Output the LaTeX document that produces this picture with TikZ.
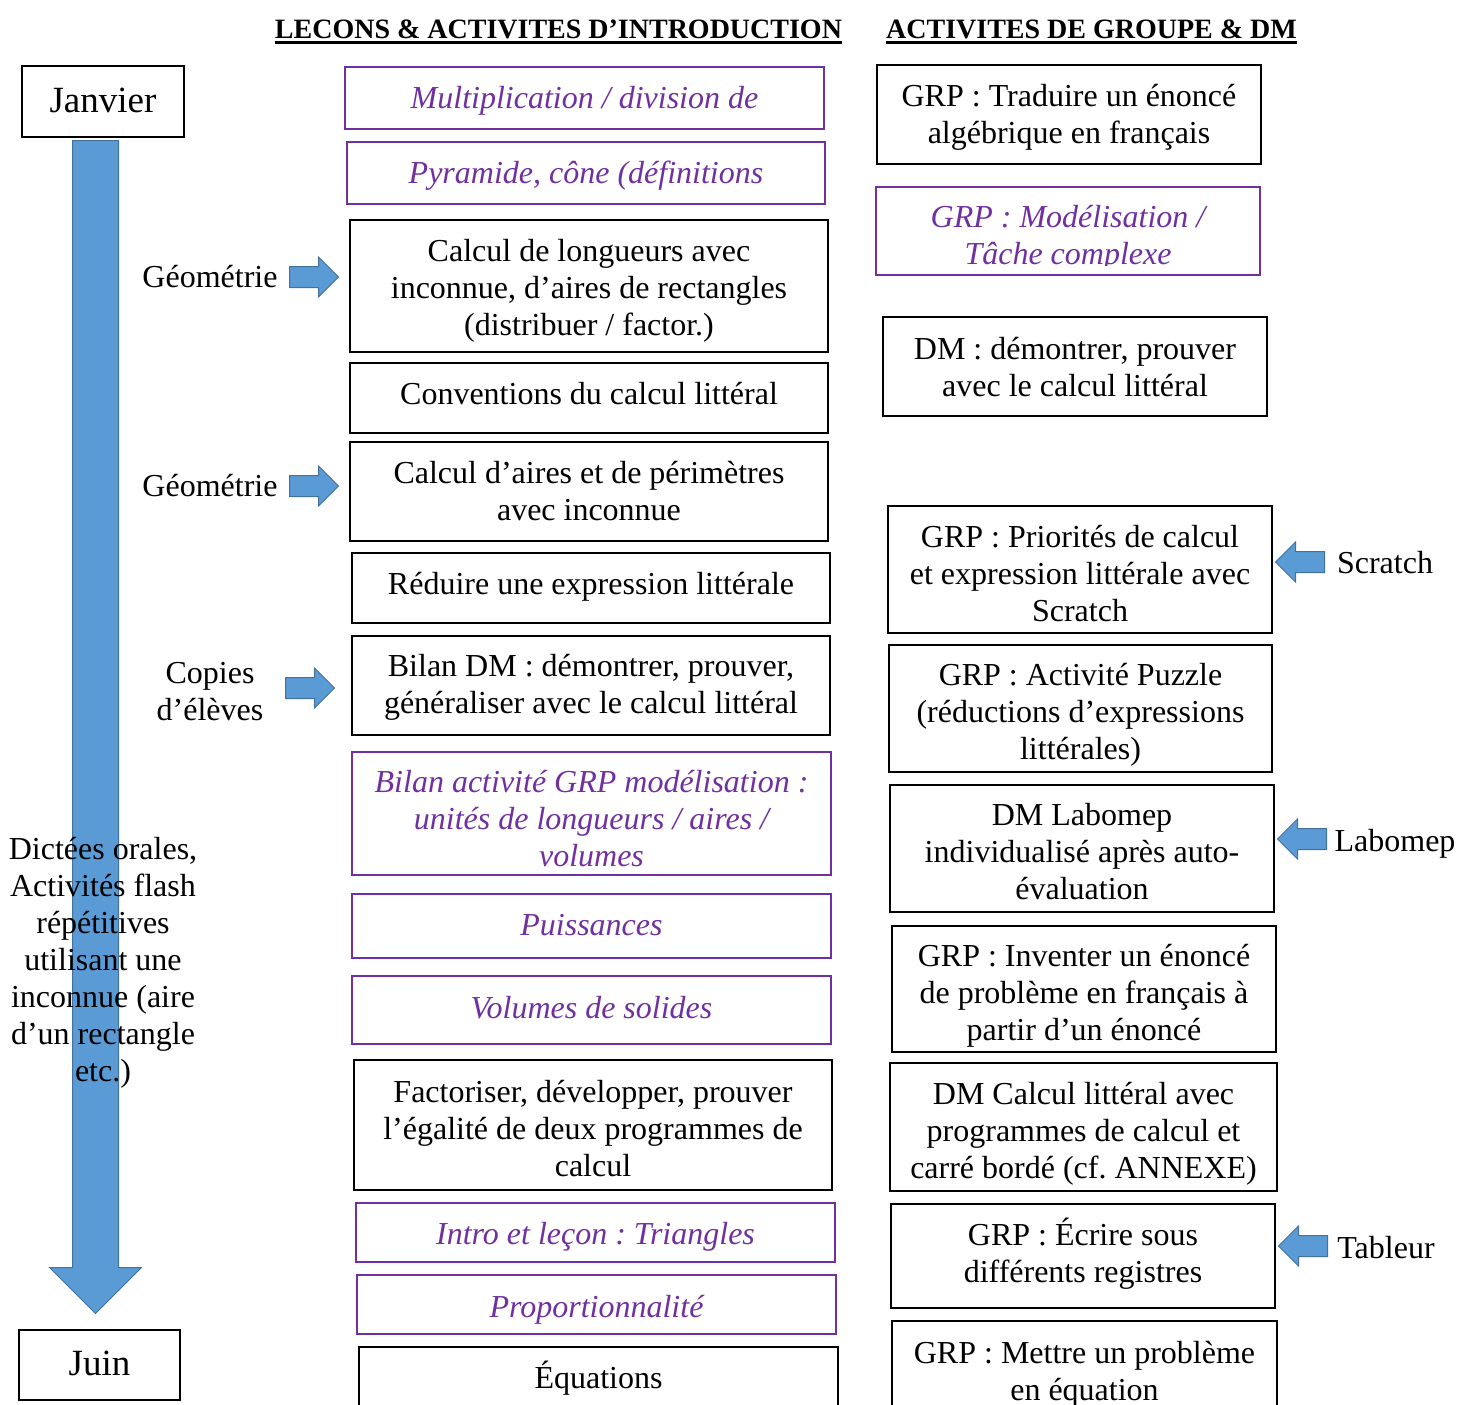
\documentclass[tikz,border=0pt]{standalone}
\usepackage{fontspec}
\setmainfont{Liberation Serif}
\usetikzlibrary{shapes.arrows}
\frenchspacing

\definecolor{purp}{HTML}{7030A0}
\definecolor{arrfill}{HTML}{5B9BD5}
\definecolor{arrline}{HTML}{41719C}

\tikzset{
	th/.initial=29, td/.initial=9,
	tv/.style 2 args={th=#1, td=#2},
	sz/.style 2 args={minimum width=#1pt, minimum height=#2pt},
	lab/.style={align=center, inner sep=0pt, font=\fontsize{32}{37}\selectfont,
		execute at begin node={\rule{0pt}{\pgfkeysvalueof{/tikz/th}pt}},
		execute at end node={\rule[-\pgfkeysvalueof{/tikz/td}pt]{0pt}{0pt}}},
	lecon/.style={lab, draw, line width=1.3pt},
	intro/.style={lecon, draw=purp, text=purp, font=\fontsize{32}{37}\selectfont\itshape},
	mois/.style={lecon, font=\fontsize{37}{40}\selectfont},
	titre/.style={inner sep=0pt, anchor=base, font=\fontsize{28}{30}\selectfont\bfseries},
	barrow/.style={single arrow, fill=arrfill, draw=arrline, line width=1pt, inner xsep=0pt, inner ysep=10pt,
		single arrow head extend=9.5pt, minimum height=49pt, anchor=tail}
}

\begin{document}
\begin{tikzpicture}[x=1pt,y=-1pt]
	\useasboundingbox (0,0) rectangle (1459,1405);

	% titres
	\node[titre] (h1) at (558.5,38.5) {LECONS \& ACTIVITES D’INTRODUCTION};
	\node[titre] (h2) at (1091.5,38.5) {ACTIVITES DE GROUPE \& DM};
	\draw[line width=2.5pt] ([yshift=-4pt]h1.base west) -- ([yshift=-4pt]h1.base east);
	\draw[line width=2.5pt] ([yshift=-4pt]h2.base west) -- ([yshift=-4pt]h2.base east);

	% frise
	\node[mois, sz={162}{71}, tv={30}{9}] (jan) at (103,101.5) {Janvier};
	\node[mois, sz={161}{70}, tv={29}{9}] (juin) at (99.5,1365) {Juin};
	\node[single arrow, fill=arrfill, draw=arrline, line width=1pt, inner xsep=0pt, inner ysep=22.5pt, rotate=-90,
		single arrow head extend=23pt, minimum height=1173pt, anchor=tail] (temps) at (95.5,140) {};
	\node[lab, tv={253}{9}] (dict) at (103,959) {Dictées orales,\\Activités flash\\répétitives\\utilisant une\\inconnue (aire\\d’un rectangle\\etc.)};

	% lecons
	\node[intro, sz={479}{62}, tv={29}{9}] (m1) at (584.5,98) {Multiplication / division de};
	\node[intro, sz={478}{62}, tv={29}{9}] (m2) at (586,173) {Pyramide, cône (définitions};
	\node[lecon, sz={478}{132}, tv={107}{9}] (m3) at (589,286) {Calcul de longueurs avec\\inconnue, d’aires de rectangles\\(distribuer / factor.)};
	\node[lecon, sz={478}{70}, tv={25}{13}] (m4) at (589,398) {Conventions du calcul littéral};
	\node[lecon, sz={478}{99}, tv={66}{9}] (m5) at (589,491.5) {Calcul d’aires et de périmètres\\avec inconnue};
	\node[lecon, sz={478}{70}, tv={25}{13}] (m6) at (591,588) {Réduire une expression littérale};
	\node[lecon, sz={478}{99}, tv={64}{9}] (m7) at (591,685.5) {Bilan DM : démontrer, prouver,\\généraliser avec le calcul littéral};
	\node[intro, sz={479}{123}, tv={114}{9}] (m8) at (591.5,813.5) {Bilan activité GRP modélisation :\\unités de longueurs / aires /\\volumes};
	\node[intro, sz={479}{64}, tv={27}{9}] (m9) at (591.5,926) {Puissances};
	\node[intro, sz={479}{68}, tv={25}{9}] (m10) at (591.5,1010) {Volumes de solides};
	\node[lecon, sz={478}{130}, tv={111}{9}] (m11) at (593,1125) {Factoriser, développer, prouver\\l’égalité de deux programmes de\\calcul};
	\node[intro, sz={479}{59}, tv={32}{9}] (m12) at (595.5,1232.5) {Intro et leçon : Triangles};
	\node[intro, sz={479}{59}, tv={34}{9}] (m13) at (596.5,1304.5) {Proportionnalité};
	\node[lecon, sz={479}{62}, tv={29}{9}] (m14) at (598.5,1378) {Équations};

	% activites de groupe et DM
	\node[lecon, sz={384}{99}, tv={66}{9}] (r1) at (1069,114.5) {GRP : Traduire un énoncé\\algébrique en français};
	\node[intro, sz={384}{88}] (r2) at (1068,231) {};
	\begin{scope}
		\clip (r2.north west) rectangle ([yshift=10pt]r2.south east);
		\node[lab, text=purp, font=\fontsize{32}{37}\selectfont\itshape, tv={75}{9}] (r2t) at (r2.center) {GRP : Modélisation /\\Tâche complexe};
	\end{scope}
	\node[lecon, sz={384}{99}, tv={68}{9}] (r3) at (1075,366.5) {DM : démontrer, prouver\\avec le calcul littéral};
	\node[lecon, sz={384}{127}, tv={112}{9}] (r4) at (1080,569.5) {GRP : Priorités de calcul\\et expression littérale avec\\Scratch};
	\node[lecon, sz={383}{127}, tv={110}{9}] (r5) at (1080.5,708.5) {GRP : Activité Puzzle\\(réductions d’expressions\\littérales)};
	\node[lecon, sz={384}{127}, tv={110}{9}] (r6) at (1082,848.5) {DM Labomep\\individualisé après auto-\\évaluation};
	\node[lecon, sz={384}{126}, tv={111}{9}] (r7) at (1084,989) {GRP : Inventer un énoncé\\de problème en français à\\partir d’un énoncé};
	\node[lecon, sz={387}{128}, tv={111}{9}] (r8) at (1083.5,1127) {DM Calcul littéral avec\\programmes de calcul et\\carré bordé (cf. ANNEXE)};
	\node[lecon, sz={384}{104}, tv={65}{13}] (r9) at (1083,1256) {GRP : Écrire sous\\différents registres};
	\node[lecon, sz={385}{100}, tv={67}{9}] (r10) at (1084.5,1371) {GRP : Mettre un problème\\en équation};

	% outils et sources
	\node[lab] (geo1) at (210,277) {Géométrie};
	\node[lab] (geo2) at (210,486) {Géométrie};
	\node[lab, tv={67}{9}] (cop) at (210,691) {Copies\\d’élèves};
	\node[barrow] (a1) at (289,277) {};
	\node[barrow] (a2) at (289,486) {};
	\node[barrow] (a3) at (285,688) {};

	\node[lab] (scr) at (1385,563) {Scratch};
	\node[lab] (lbm) at (1395,841) {Labomep};
	\node[lab] (tab) at (1386,1248) {Tableur};
	\node[barrow, rotate=180] (a4) at (1325,562) {};
	\node[barrow, rotate=180] (a5) at (1327,839) {};
	\node[barrow, rotate=180] (a6) at (1328,1246) {};
\end{tikzpicture}
\end{document}
